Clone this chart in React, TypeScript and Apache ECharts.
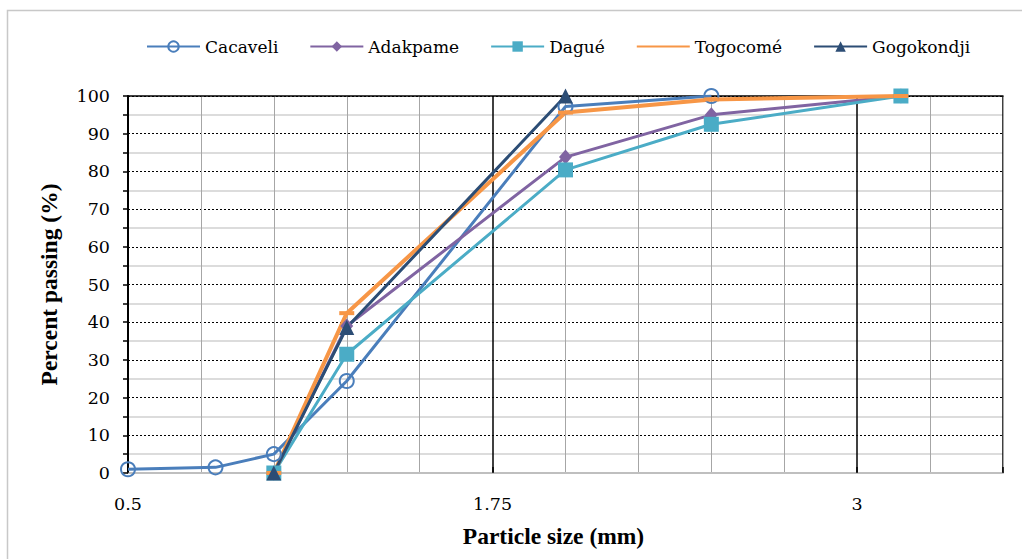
import React, { useEffect, useRef } from "react";
import * as echarts from "echarts";

const sizes = [0.5, 0.8, 1, 1.25, 2, 2.5, 3.15];
const cacaveli = [1, 1.5, 5, 24.4, 97.2, 100, null];
const adakpame = [null, null, 0, 39, 83.8, 95, 100];
const dague = [null, null, 0, 31.5, 80.4, 92.5, 100];
const togocome = [null, null, 0, 42.4, 95.6, 99.1, 100];
const gogokondji = [null, null, 0, 38.6, 100, null, null];
const seriesNames = ["Cacaveli", "Adakpame", "Dagué", "Togocomé", "Gogokondji"];
const xTickLabels = ["0.5", "1.75", "3"];

const FONT_BOLD = "Liberation Serif";
const FONT = "DejaVu Serif";
const DASH = "path://M0,0 H12 V3 H0 Z";

function pairs(vals: (number | null)[]) {
  const out: [number, number][] = [];
  vals.forEach((v, i) => {
    if (v !== null) out.push([sizes[i], v]);
  });
  return out;
}

export default function App() {
  const ref = useRef<HTMLDivElement>(null);
  useEffect(() => {
    const chart = echarts.init(ref.current!, null, { renderer: "svg" });
    const mk = (
      name: string,
      vals: (number | null)[],
      color: string,
      symbol: string,
      symbolSize: number | number[],
      width: number,
      fill?: string
    ) => ({
      name,
      type: "line",
      data: pairs(vals),
      symbol,
      symbolSize,
      lineStyle: { color, width },
      itemStyle: fill
        ? { color: fill, borderColor: color, borderWidth: 2 }
        : { color, borderWidth: 0 },
      emphasis: { disabled: true },
    });
    chart.setOption({
      animation: false,
      graphic: [
        {
          type: "rect",
          shape: { x: 7.5, y: 10.5, width: 1100, height: 700 },
          style: { fill: "none", stroke: "#c8c8c8", lineWidth: 1.5 },
          silent: true,
        },
      ],
      legend: {
        left: 141,
        top: 33,
        itemWidth: 53,
        itemHeight: 13,
        itemGap: 31,
        data: seriesNames.map((n) =>
          n === "Togocomé" ? { name: n, itemStyle: { opacity: 0 } } : { name: n }
        ),
        textStyle: { fontFamily: FONT, fontSize: 17, color: "#000" },
      },
      grid: { left: 128, right: 19, top: 96, bottom: 86, containLabel: false },
      xAxis: [
        {
          type: "value",
          min: 0.5,
          max: 3.5,
          interval: 1.25,
          name: "Particle size (mm)",
          nameLocation: "middle",
          nameGap: 51,
          nameTextStyle: {
            fontFamily: FONT_BOLD,
            fontSize: 23.5,
            fontWeight: "bold",
            color: "#000",
            padding: [0, 24, 0, 0],
          },
          axisLine: { show: true, onZero: false, lineStyle: { color: "#bfbfbf", width: 2 } },
          axisTick: { show: true, inside: true, length: 6, lineStyle: { color: "#000", width: 1.5 } },
          axisLabel: {
            margin: 22,
            fontFamily: FONT,
            fontSize: 17.5,
            color: "#000",
            formatter: (v: number) => {
              const s = String(Math.round(v * 100) / 100);
              return xTickLabels.includes(s) ? s : "";
            },
          },
          splitLine: { show: true, lineStyle: { color: "#000", width: 1.5 } },
        },
        {
          type: "value",
          position: "top",
          min: 0.5,
          max: 3.5,
          interval: 0.25,
          axisLine: { show: true, onZero: false, lineStyle: { color: "#000", width: 1.5 } },
          axisTick: { show: false },
          axisLabel: { show: false },
          splitLine: {
            show: true,
            lineStyle: { color: ["transparent", "#a6a6a6", "#a6a6a6", "#a6a6a6", "#a6a6a6"], width: 1 },
          },
          z: 0,
        },
      ],
      yAxis: {
        type: "value",
        min: 0,
        max: 100,
        interval: 10,
        name: "Percent passing (%)",
        nameLocation: "middle",
        nameRotate: 90,
        nameGap: 67,
        nameTextStyle: { fontFamily: FONT_BOLD, fontSize: 23.5, fontWeight: "bold", color: "#000" },
        axisLine: { show: true, lineStyle: { color: "#000", width: 2 } },
        axisTick: { show: true, length: 5, lineStyle: { color: "#000", width: 1.5 } },
        minorTick: { show: true, splitNumber: 2, length: 5, lineStyle: { color: "#000", width: 1.5 } },
        minorSplitLine: { show: true, lineStyle: { color: "#d0d0d0", width: 1.5 } },
        axisLabel: { margin: 18, fontFamily: FONT, fontSize: 17.5, color: "#000" },
        splitLine: { show: true, lineStyle: { color: "#000", width: 1, type: [2, 2] } },
      },
      series: [
        mk("Cacaveli", cacaveli, "#4A7EBB", "circle", 14, 3, "rgba(255,255,255,0)"),
        mk("Adakpame", adakpame, "#8064A2", "diamond", [13, 15], 3),
        mk("Dagué", dague, "#4BACC6", "rect", 15, 3),
        mk("Togocomé", togocome, "#F79646", DASH, [15, 4], 4),
        mk("Gogokondji", gogokondji, "#2C4D75", "triangle", [15, 15], 3),
      ],
    });
    return () => chart.dispose();
  }, []);
  return (
    <div
      ref={ref}
      style={{ position: "fixed", left: 0, top: 0, width: 1022, height: 559, background: "#fff" }}
    />
  );
}
